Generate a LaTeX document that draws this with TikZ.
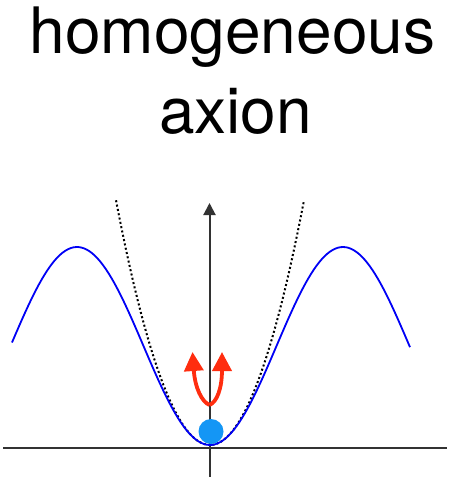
\documentclass[tikz,border=0pt]{standalone}
\usepackage{fontspec}
\setmainfont{TeX Gyre Heros}
\usetikzlibrary{arrows.meta,positioning}
\definecolor{AxisGray}{RGB}{50, 50, 50}
\definecolor{PotBlue}{RGB}{0, 0, 245}
\definecolor{BallBlue}{RGB}{20, 150, 245}
\definecolor{KickRed}{RGB}{255, 45, 15}

\begin{document}
\begin{tikzpicture}[x=1pt, y=-1pt]
    \useasboundingbox (0,0) rectangle (450,477);

    % Title
    \node[anchor=base, inner sep=0pt] (title1) at (232.5,53)
      {\fontsize{64}{76}\selectfont homogeneous};
    \node[anchor=base, inner sep=0pt] (title2) at (235.5,133)
      {\fontsize{64}{76}\selectfont axion};

    % Axes
    \coordinate (xl) at (3,447.5);
    \coordinate (xr) at (447,447.5);
    \coordinate (yb) at (209.5,477);
    \coordinate (yt) at (209.5,203);
    \draw[AxisGray, line width=2pt] (xl) -- (xr);
    \draw[AxisGray, line width=2pt, -{Triangle[length=12pt, width=12pt]}] (yb) -- (yt);

    % Quadratic approximation
    \draw[black, line width=2pt, dash pattern=on 2pt off 2.4pt, domain=116:304, samples=80]
      plot (\x, {445 - 0.0277*(\x-210)^2});

    % Periodic potential
    \draw[PotBlue, line width=1.8pt, domain=12:410, samples=150]
      plot (\x, {445 - 99*(1 - cos(1.3534*(\x-210)))});

    % Ball at the minimum
    \node[circle, fill=BallBlue, minimum size=25pt, inner sep=0pt] (ball) at (211,431.5) {};

    % Kick
    \coordinate (kick) at (209.5,405);
    \coordinate (tipL) at (192.5,352);
    \coordinate (tipR) at (222,352);
    \draw[KickRed, line width=3.8pt, -{Triangle[length=19pt, width=19pt]}]
      (kick) .. controls (202,402) and (195,388) .. (tipL);
    \draw[KickRed, line width=3.8pt, -{Triangle[length=19pt, width=19pt]}]
      (kick) .. controls (217,402) and (222,388) .. (tipR);
\end{tikzpicture}
\end{document}
